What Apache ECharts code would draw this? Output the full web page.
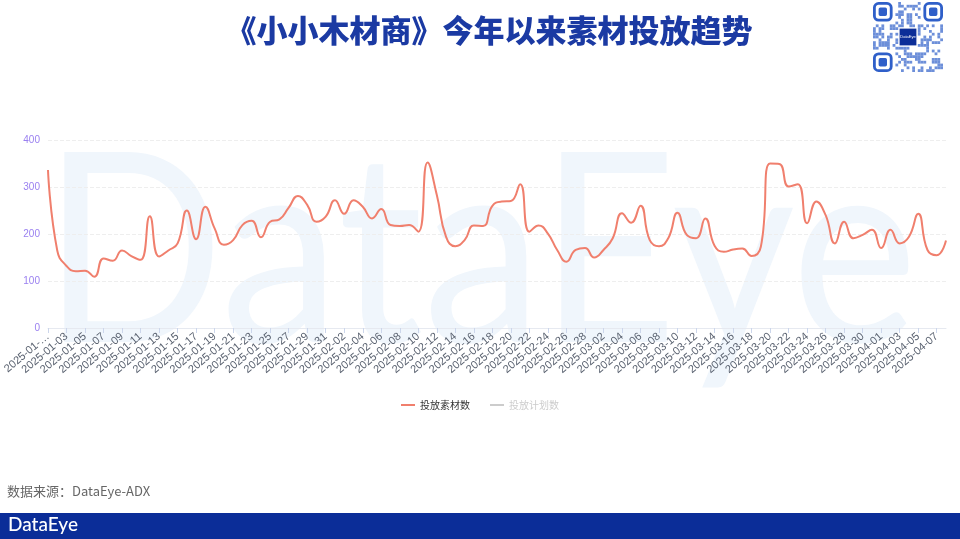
<!DOCTYPE html>
<html>
<head>
<meta charset="utf-8">
<script src="https://cdn.jsdelivr.net/npm/echarts@6/dist/echarts.min.js"></script>
<style>
html,body{margin:0;padding:0;background:#fff;}
#c{width:960px;height:539px;}
</style>
</head>
<body>
<div id="c"></div>
<script>
const titleText = '《小小木材商》今年以来素材投放趋势';
const sourceText = '数据来源：DataEye-ADX';
const seriesNames = ['投放素材数', '投放计划数'];
const dates = [
'2025-01-01','2025-01-02','2025-01-03','2025-01-04','2025-01-05','2025-01-06','2025-01-07','2025-01-08','2025-01-09','2025-01-10',
'2025-01-11','2025-01-12','2025-01-13','2025-01-14','2025-01-15','2025-01-16','2025-01-17','2025-01-18','2025-01-19','2025-01-20',
'2025-01-21','2025-01-22','2025-01-23','2025-01-24','2025-01-25','2025-01-26','2025-01-27','2025-01-28','2025-01-29','2025-01-30',
'2025-01-31','2025-02-01','2025-02-02','2025-02-03','2025-02-04','2025-02-05','2025-02-06','2025-02-07','2025-02-08','2025-02-09',
'2025-02-10','2025-02-11','2025-02-12','2025-02-13','2025-02-14','2025-02-15','2025-02-16','2025-02-17','2025-02-18','2025-02-19',
'2025-02-20','2025-02-21','2025-02-22','2025-02-23','2025-02-24','2025-02-25','2025-02-26','2025-02-27','2025-02-28','2025-03-01',
'2025-03-02','2025-03-03','2025-03-04','2025-03-05','2025-03-06','2025-03-07','2025-03-08','2025-03-09','2025-03-10','2025-03-11',
'2025-03-12','2025-03-13','2025-03-14','2025-03-15','2025-03-16','2025-03-17','2025-03-18','2025-03-19','2025-03-20','2025-03-21',
'2025-03-22','2025-03-23','2025-03-24','2025-03-25','2025-03-26','2025-03-27','2025-03-28','2025-03-29','2025-03-30','2025-03-31',
'2025-04-01','2025-04-02','2025-04-03','2025-04-04','2025-04-05','2025-04-06','2025-04-07','2025-04-08'
];
const materialCounts = [
336,165,132,121,122,109,148,143,165,153,
145,238,152,165,180,250,189,258,212,177,
187,219,228,193,226,231,256,281,262,226,
237,272,243,272,258,233,253,219,217,219,
205,352,283,194,174,187,218,217,260,269,
270,306,205,218,201,166,141,166,170,150,
166,191,244,224,260,187,174,191,245,198,
191,233,175,162,167,169,153,173,350,349,
301,306,223,269,240,180,226,191,198,209,
170,209,180,194,243,166,155,186
];
const planCounts = []; // hidden series (legend deselected), values not shown
const yTicks = [0, 100, 200, 300, 400];

// decorative QR-like block (not data)
function qrGraphics(x0, y0, size) {
  const els = [];
  const n = 25, m = size / n;
  const blue = '#2f5fc9';
  let s = 7;
  function rnd() { s = (s * 1103515245 + 12345) % 2147483648; return s / 2147483648; }
  for (let r = 0; r < n; r++) for (let c = 0; c < n; c++) {
    const inF = (r < 8 && c < 8) || (r < 8 && c >= n - 8) || (r >= n - 8 && c < 8);
    const inC = r >= 9 && r <= 15 && c >= 9 && c <= 15;
    if (inF || inC) continue;
    if (rnd() < 0.45) els.push({type:'rect', shape:{x:x0+c*m, y:y0+r*m, width:m, height:m}, style:{fill:blue, opacity:0.7}, silent:true});
  }
  [[0,0],[0,n-7],[n-7,0]].forEach(([r,c]) => {
    els.push({type:'rect', shape:{x:x0+c*m+m*0.5, y:y0+r*m+m*0.5, width:m*6, height:m*6, r:m*1.5}, style:{fill:'none', stroke:blue, lineWidth:m}, silent:true});
    els.push({type:'rect', shape:{x:x0+c*m+m*2, y:y0+r*m+m*2, width:m*3, height:m*3, r:m*0.6}, style:{fill:blue}, silent:true});
  });
  els.push({type:'rect', shape:{x:x0+9.5*m, y:y0+9.5*m, width:6*m, height:6*m}, style:{fill:'#0c2e98'}, silent:true});
  els.push({type:'text', x:x0+12.5*m, y:y0+12.5*m, style:{text:'DataEye', fill:'#fff', font:'4px sans-serif', align:'center', verticalAlign:'middle'}, silent:true});
  return els;
}

const lastIdx = dates.length - 1;
const chart = echarts.init(document.getElementById('c'), null, {renderer:'canvas'});
const option = {
  backgroundColor: '#fff',
  animation: false,
  title: {
    text: titleText,
    left: 484, top: 10, textAlign: 'center',
    textStyle: {fontFamily:'Noto Sans CJK SC', fontWeight:900, fontSize:31, color:'#1b3aa3'}
  },
  graphic: [
    {type:'text', left:'center', top:124, z:-10, scaleX:0.9, style:{text:'DataEye', fill:'#f0f6fc', font:'normal 265px Lato'}, silent:true},
    {type:'group', children: qrGraphics(873, 2, 70)},
    {type:'text', left:7, top:485, style:{text:sourceText, fill:'#666', font:'13px "Noto Sans CJK SC"'}, silent:true},
    {type:'rect', left:0, top:513, shape:{width:960, height:26}, style:{fill:'#0b2d98'}, silent:true},
    {type:'text', left:8, top:515, style:{text:'DataEye', fill:'#fff', font:'500 19px Lato'}, silent:true}
  ],
  legend: {
    data: seriesNames,
    top: 395, left: 'center',
    itemWidth: 14, itemHeight: 2, itemGap: 20,
    icon: 'rect',
    selected: {'投放计划数': false},
    textStyle: {fontSize: 10, color: '#333', fontFamily:'Noto Sans CJK SC'},
    inactiveColor: '#ccc'
  },
  grid: {left: 45, right: 14, top: 140, bottom: 211},
  xAxis: {
    type: 'category',
    data: dates,
    boundaryGap: false,
    axisLine: {lineStyle: {color: '#e6e9f0'}},
    axisTick: {interval: (i) => i % 2 === 0, lineStyle: {color: '#ccd6eb'}},
    axisLabel: {
      interval: 1, rotate: 40, fontSize: 11, color: '#5a6270', margin: 7,
      fontFamily: 'Liberation Sans',
      showMinLabel: true, showMaxLabel: true, hideOverlap: false,
      formatter: (v, i) => i === 0 ? v.slice(0, 8) + '…' : (i === lastIdx ? '' : v)
    }
  },
  yAxis: {
    type: 'value',
    min: yTicks[0], max: yTicks[yTicks.length-1], interval: 100,
    axisLine: {show:false}, axisTick: {show:false},
    axisLabel: {fontSize: 10, color: '#9a80f0', fontFamily: 'Liberation Sans'},
    splitLine: {lineStyle: {color: '#eeeeee', type: 'dashed'}}
  },
  series: [
    {name: seriesNames[0], type: 'line', data: materialCounts, smooth: true, symbol: 'none',
     lineStyle: {color: '#f07f6d', width: 2}, itemStyle: {color: '#f07f6d'}},
    {name: seriesNames[1], type: 'line', data: planCounts, smooth: true, symbol: 'none',
     lineStyle: {color: '#9aa4b8', width: 2}, itemStyle: {color: '#9aa4b8'}}
  ]
};
chart.setOption(option);
</script>
</body>
</html>
